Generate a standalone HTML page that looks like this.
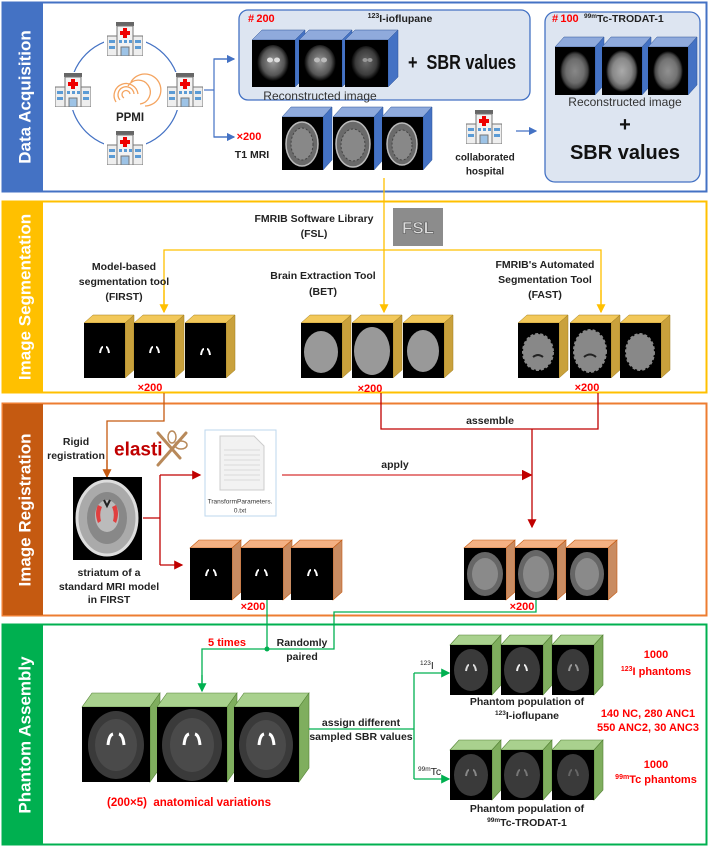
<!DOCTYPE html>
<html><head><meta charset="utf-8"><style>
html,body{margin:0;padding:0;background:#fff;}
svg{display:block;}
text{font-family:"Liberation Sans",sans-serif;dominant-baseline:central;}
.l{font-size:10.5px;font-weight:bold;fill:#222;text-anchor:middle;}
.r{font-size:11px;font-weight:bold;fill:#f00;text-anchor:middle;}
.t{font-size:17px;font-weight:bold;fill:#fff;text-anchor:middle;}
</style></head><body>
<svg width="709" height="848" viewBox="0 0 709 848" xmlns="http://www.w3.org/2000/svg">
<defs>
<radialGradient id="gs" cx="50%" cy="45%" r="50%"><stop offset="0" stop-color="#9a9a9a"/><stop offset="0.7" stop-color="#555"/><stop offset="1" stop-color="#000"/></radialGradient>
<radialGradient id="gt" cx="50%" cy="50%" r="50%"><stop offset="0" stop-color="#aaa"/><stop offset="0.6" stop-color="#888"/><stop offset="0.85" stop-color="#555"/><stop offset="1" stop-color="#000"/></radialGradient>
<marker id="ab" markerWidth="7" markerHeight="7" refX="6" refY="3.5" orient="auto"><path d="M0,0 L7,3.5 L0,7z" fill="#4472c4"/></marker>
<marker id="ay" markerWidth="7" markerHeight="7" refX="6" refY="3.5" orient="auto"><path d="M0,0 L7,3.5 L0,7z" fill="#ffc000"/></marker>
<marker id="ao" markerWidth="7" markerHeight="7" refX="6" refY="3.5" orient="auto"><path d="M0,0 L7,3.5 L0,7z" fill="#c55a11"/></marker>
<marker id="ar" markerWidth="7" markerHeight="7" refX="6" refY="3.5" orient="auto"><path d="M0,0 L7,3.5 L0,7z" fill="#c00000"/></marker>
<marker id="ag" markerWidth="7" markerHeight="7" refX="6" refY="3.5" orient="auto"><path d="M0,0 L7,3.5 L0,7z" fill="#00b050"/></marker>
<symbol id="hosp" viewBox="0 0 36 34" width="36" height="34">
<rect x="9" y="0" width="18" height="4" fill="#666"/>
<rect x="10" y="4" width="16" height="30" fill="#f2f2f2" stroke="#777"/>
<rect x="0" y="14" width="10" height="20" fill="#eee" stroke="#777"/>
<rect x="26" y="14" width="10" height="20" fill="#eee" stroke="#777"/>
<rect x="16" y="6" width="4" height="10" fill="#e00"/><rect x="13" y="9" width="10" height="4" fill="#e00"/>
<rect x="2" y="18" width="6" height="3" fill="#5b9bd5"/><rect x="2" y="24" width="6" height="3" fill="#5b9bd5"/>
<rect x="28" y="18" width="6" height="3" fill="#5b9bd5"/><rect x="28" y="24" width="6" height="3" fill="#5b9bd5"/>
<rect x="12" y="18" width="3" height="3" fill="#5b9bd5"/><rect x="17" y="18" width="3" height="3" fill="#5b9bd5"/><rect x="22" y="18" width="3" height="3" fill="#5b9bd5"/>
<rect x="14" y="25" width="8" height="9" fill="#9dc3e6" stroke="#777"/>
</symbol>
</defs>

<rect x="2.5" y="2.5" width="704" height="189" fill="none" stroke="#4472c4" stroke-width="2"/>
<rect x="3" y="3" width="40" height="188" fill="#4472c4"/>
<text class="t" transform="translate(25,97) rotate(-90)">Data Acquisition</text>

<rect x="2.5" y="201.5" width="704" height="191" fill="none" stroke="#ffc000" stroke-width="2"/>
<rect x="3" y="202" width="40" height="190" fill="#ffc000"/>
<text class="t" transform="translate(25,297) rotate(-90)">Image Segmentation</text>

<rect x="2.5" y="403.5" width="704" height="212" fill="none" stroke="#ed7d31" stroke-width="2"/>
<rect x="3" y="404" width="40" height="211" fill="#c55a11"/>
<text class="t" transform="translate(25,510) rotate(-90)">Image Registration</text>

<rect x="2.5" y="624.5" width="704" height="220" fill="none" stroke="#00b050" stroke-width="2"/>
<rect x="3" y="625" width="40" height="219" fill="#00b050"/>
<text class="t" transform="translate(25,735) rotate(-90)">Phantom Assembly</text>

<circle cx="125" cy="93" r="55" fill="none" stroke="#4472c4" stroke-width="1.2"/>
<rect x="104" y="20" width="42" height="36" fill="#fff"/><rect x="50" y="72" width="42" height="38" fill="#fff"/>
<rect x="162" y="72" width="42" height="38" fill="#fff"/><rect x="104" y="130" width="42" height="36" fill="#fff"/>
<use href="#hosp" x="107" y="22"/><use href="#hosp" x="55" y="73"/><use href="#hosp" x="167" y="73"/><use href="#hosp" x="107" y="131"/>
<g fill="none" stroke="#f4a460" stroke-width="1.3">
<path d="M120,100 a8,8 0 1,1 14,-6"/><path d="M116,102 a12,12 0 1,1 22,-8"/><path d="M124,98 a4,4 0 1,1 6,-4"/>
<path d="M128,86 a12,12 0 1,1 12,18"/><path d="M131,82 a16,16 0 1,1 14,24"/>
</g>
<text class="l" x="130" y="118" style="font-size:11.5px">PPMI</text>
<polyline points="204,90 214,90" fill="none" stroke="#4472c4" stroke-width="1.2"/>
<polyline points="234,59 214,59 214,137 234,137" fill="none" stroke="#4472c4" stroke-width="1.2"/>
<line x1="214" y1="59" x2="234" y2="59" stroke="#4472c4" stroke-width="1.2" marker-end="url(#ab)"/>
<line x1="214" y1="137" x2="234" y2="137" stroke="#4472c4" stroke-width="1.2" marker-end="url(#ab)"/>

<rect x="239" y="10" width="291" height="90" rx="9" fill="#dde5f1" stroke="#4472c4" stroke-width="1.3"/>
<text x="248" y="19" style="font-size:11px;font-weight:bold;fill:#f00">#&#8201;200</text>
<text class="l" x="400" y="19"><tspan style="font-size:7px" dy="-3">123</tspan><tspan dy="3">I-ioflupane</tspan></text>
<g>
<g transform="translate(252,40)"><polygon points="0,0 10,-10 53,-10 43,0" fill="#8faadc" stroke="#2f5597" stroke-width=".5"/><polygon points="43,0 53,-10 53,37 43,47" fill="#4472c4" stroke="#2f5597" stroke-width=".5"/><rect width="43" height="47" fill="#000"/><ellipse cx="21" cy="24" rx="16" ry="19" fill="url(#gs)"/><ellipse cx="18" cy="20" rx="3" ry="2.5" fill="#ddd"/><ellipse cx="25" cy="20" rx="3" ry="2.5" fill="#ddd"/></g>
<g transform="translate(299,40)"><polygon points="0,0 10,-10 53,-10 43,0" fill="#8faadc" stroke="#2f5597" stroke-width=".5"/><polygon points="43,0 53,-10 53,37 43,47" fill="#4472c4" stroke="#2f5597" stroke-width=".5"/><rect width="43" height="47" fill="#000"/><ellipse cx="21" cy="24" rx="16" ry="19" fill="url(#gs)"/><ellipse cx="18" cy="20" rx="3" ry="2.5" fill="#bbb"/><ellipse cx="25" cy="20" rx="3" ry="2.5" fill="#bbb"/></g>
<g transform="translate(345,40)"><polygon points="0,0 10,-10 53,-10 43,0" fill="#8faadc" stroke="#2f5597" stroke-width=".5"/><polygon points="43,0 53,-10 53,37 43,47" fill="#4472c4" stroke="#2f5597" stroke-width=".5"/><rect width="43" height="47" fill="#000"/><ellipse cx="21" cy="24" rx="15" ry="18" fill="url(#gs)" opacity=".7"/><ellipse cx="20" cy="20" rx="2.5" ry="2" fill="#999"/><ellipse cx="25" cy="20" rx="2.5" ry="2" fill="#999"/></g>
</g>
<text x="408" y="63" textLength="108" lengthAdjust="spacingAndGlyphs" style="font-size:20px;font-weight:bold;fill:#111;dominant-baseline:central">+&#160; SBR values</text>
<text x="320" y="96" style="font-size:12px;fill:#333;text-anchor:middle">Reconstructed image</text>

<g>
<g transform="translate(282,117)"><polygon points="0,0 9,-10 50,-10 41,0" fill="#8faadc" stroke="#2f5597" stroke-width=".5"/><polygon points="41,0 50,-10 50,43 41,53" fill="#4472c4" stroke="#2f5597" stroke-width=".5"/><rect width="41" height="53" fill="#000"/><ellipse cx="20" cy="27" rx="16" ry="22" fill="#6a6a6a" stroke="#bbb" stroke-width="1.5"/><ellipse cx="20" cy="27" rx="11" ry="16" fill="#888" stroke="#444" stroke-dasharray="2 2"/></g>
<g transform="translate(333,117)"><polygon points="0,0 9,-10 50,-10 41,0" fill="#8faadc" stroke="#2f5597" stroke-width=".5"/><polygon points="41,0 50,-10 50,43 41,53" fill="#4472c4" stroke="#2f5597" stroke-width=".5"/><rect width="41" height="53" fill="#000"/><ellipse cx="20" cy="27" rx="17" ry="23" fill="#6a6a6a" stroke="#bbb" stroke-width="1.5"/><ellipse cx="20" cy="28" rx="12" ry="16" fill="#888" stroke="#444" stroke-dasharray="2 2"/></g>
<g transform="translate(382,117)"><polygon points="0,0 9,-10 50,-10 41,0" fill="#8faadc" stroke="#2f5597" stroke-width=".5"/><polygon points="41,0 50,-10 50,43 41,53" fill="#4472c4" stroke="#2f5597" stroke-width=".5"/><rect width="41" height="53" fill="#000"/><ellipse cx="20" cy="27" rx="15" ry="21" fill="#6a6a6a" stroke="#bbb" stroke-width="1.5"/><ellipse cx="20" cy="28" rx="10" ry="15" fill="#888" stroke="#444" stroke-dasharray="2 2"/></g>
</g>
<text class="r" x="249" y="137">×200</text>
<text class="l" x="252" y="155">T1 MRI</text>

<use href="#hosp" x="466" y="110"/>
<text class="l" x="485" y="158" style="font-size:10px">collaborated</text>
<text class="l" x="485" y="172" style="font-size:10px">hospital</text>
<line x1="516" y1="131" x2="536" y2="131" stroke="#4472c4" stroke-width="1.2" marker-end="url(#ab)"/>

<rect x="545" y="12" width="155" height="170" rx="10" fill="#dde5f1" stroke="#4472c4" stroke-width="1.3"/>
<text x="552" y="19" style="font-size:11px;font-weight:bold;fill:#f00">#&#8201;100</text>
<text x="584" y="19" style="font-size:10.5px;font-weight:bold;fill:#222"><tspan style="font-size:6.5px" dy="-3">99m</tspan><tspan dy="3">Tc-TRODAT-1</tspan></text>
<g transform="translate(555,47)"><polygon points="0,0 9,-10 49,-10 40,0" fill="#8faadc" stroke="#2f5597" stroke-width=".5"/><polygon points="40,0 49,-10 49,38 40,48" fill="#4472c4" stroke="#2f5597" stroke-width=".5"/><rect width="40" height="48" fill="#000"/><ellipse cx="20" cy="24" rx="15" ry="20" fill="url(#gt)" opacity=".8"/></g>
<g transform="translate(602,47)"><polygon points="0,0 9,-10 49,-10 40,0" fill="#8faadc" stroke="#2f5597" stroke-width=".5"/><polygon points="40,0 49,-10 49,38 40,48" fill="#4472c4" stroke="#2f5597" stroke-width=".5"/><rect width="40" height="48" fill="#000"/><ellipse cx="20" cy="24" rx="16" ry="21" fill="url(#gt)"/></g>
<g transform="translate(648,47)"><polygon points="0,0 9,-10 49,-10 40,0" fill="#8faadc" stroke="#2f5597" stroke-width=".5"/><polygon points="40,0 49,-10 49,38 40,48" fill="#4472c4" stroke="#2f5597" stroke-width=".5"/><rect width="40" height="48" fill="#000"/><ellipse cx="20" cy="24" rx="15" ry="20" fill="url(#gt)" opacity=".85"/></g>
<text x="625" y="102" style="font-size:12px;fill:#333;text-anchor:middle">Reconstructed image</text>
<text x="625" y="125" style="font-size:20px;font-weight:bold;fill:#111;text-anchor:middle">+</text>
<text x="625" y="153" style="font-size:20px;font-weight:bold;fill:#111;text-anchor:middle">SBR values</text>

<line x1="384" y1="178" x2="384" y2="312" stroke="#ffc000" stroke-width="1.3" marker-end="url(#ay)"/>
<polyline points="164,312 164,250 601,250 601,312" fill="none" stroke="#ffc000" stroke-width="1.3"/>
<line x1="164" y1="290" x2="164" y2="312" stroke="#ffc000" stroke-width="1.3" marker-end="url(#ay)"/>
<line x1="601" y1="290" x2="601" y2="312" stroke="#ffc000" stroke-width="1.3" marker-end="url(#ay)"/>
<text class="l" x="314" y="219">FMRIB Software Library</text>
<text class="l" x="314" y="234">(FSL)</text>
<rect x="393" y="208" width="50" height="38" fill="#8c8c8c"/>
<text x="418" y="228" style="font-size:17px;font-weight:bold;fill:#ddd;text-anchor:middle;stroke:#555;stroke-width:.6">FSL</text>
<text class="l" x="124" y="267">Model-based</text>
<text class="l" x="124" y="282">segmentation tool</text>
<text class="l" x="124" y="297">(FIRST)</text>
<text class="l" x="323" y="276">Brain Extraction Tool</text>
<text class="l" x="323" y="292">(BET)</text>
<text class="l" x="545" y="265">FMRIB's Automated</text>
<text class="l" x="545" y="280">Segmentation Tool</text>
<text class="l" x="545" y="295">(FAST)</text>

<g>
<g transform="translate(84,323)"><polygon points="0,0 9,-8 50,-8 41,0" fill="#f2c85a" stroke="#a07d1c" stroke-width=".5"/><polygon points="41,0 50,-8 50,47 41,55" fill="#c9a13c" stroke="#a07d1c" stroke-width=".5"/><rect width="41" height="55" fill="#000"/><path d="M16,30 q1,-6 3,-6 M25,30 q-1,-6 -3,-6" stroke="#fff" stroke-width="2" fill="none"/></g>
<g transform="translate(134,323)"><polygon points="0,0 9,-8 50,-8 41,0" fill="#f2c85a" stroke="#a07d1c" stroke-width=".5"/><polygon points="41,0 50,-8 50,47 41,55" fill="#c9a13c" stroke="#a07d1c" stroke-width=".5"/><rect width="41" height="55" fill="#000"/><path d="M16,30 q1,-6 3,-6 M25,30 q-1,-6 -3,-6" stroke="#fff" stroke-width="2" fill="none"/></g>
<g transform="translate(185,323)"><polygon points="0,0 9,-8 50,-8 41,0" fill="#f2c85a" stroke="#a07d1c" stroke-width=".5"/><polygon points="41,0 50,-8 50,47 41,55" fill="#c9a13c" stroke="#a07d1c" stroke-width=".5"/><rect width="41" height="55" fill="#000"/><path d="M16,32 q1,-6 3,-6 M25,32 q-1,-6 -3,-6" stroke="#fff" stroke-width="2" fill="none"/></g>
<g transform="translate(301,323)"><polygon points="0,0 9,-8 50,-8 41,0" fill="#f2c85a" stroke="#a07d1c" stroke-width=".5"/><polygon points="41,0 50,-8 50,47 41,55" fill="#c9a13c" stroke="#a07d1c" stroke-width=".5"/><rect width="41" height="55" fill="#000"/><ellipse cx="20" cy="29" rx="17" ry="21" fill="#999"/></g>
<g transform="translate(352,323)"><polygon points="0,0 9,-8 50,-8 41,0" fill="#f2c85a" stroke="#a07d1c" stroke-width=".5"/><polygon points="41,0 50,-8 50,47 41,55" fill="#c9a13c" stroke="#a07d1c" stroke-width=".5"/><rect width="41" height="55" fill="#000"/><ellipse cx="20" cy="28" rx="18" ry="24" fill="#999"/></g>
<g transform="translate(403,323)"><polygon points="0,0 9,-8 50,-8 41,0" fill="#f2c85a" stroke="#a07d1c" stroke-width=".5"/><polygon points="41,0 50,-8 50,47 41,55" fill="#c9a13c" stroke="#a07d1c" stroke-width=".5"/><rect width="41" height="55" fill="#000"/><ellipse cx="20" cy="28" rx="16" ry="21" fill="#999"/></g>
<g transform="translate(518,323)"><polygon points="0,0 9,-8 50,-8 41,0" fill="#f2c85a" stroke="#a07d1c" stroke-width=".5"/><polygon points="41,0 50,-8 50,47 41,55" fill="#c9a13c" stroke="#a07d1c" stroke-width=".5"/><rect width="41" height="55" fill="#000"/><ellipse cx="20" cy="29" rx="15" ry="18" fill="#888" stroke="#888" stroke-width="2" stroke-dasharray="3 2"/><path d="M15,34 q5,-4 10,0" stroke="#222" stroke-width="2" fill="none"/></g>
<g transform="translate(570,323)"><polygon points="0,0 9,-8 50,-8 41,0" fill="#f2c85a" stroke="#a07d1c" stroke-width=".5"/><polygon points="41,0 50,-8 50,47 41,55" fill="#c9a13c" stroke="#a07d1c" stroke-width=".5"/><rect width="41" height="55" fill="#000"/><ellipse cx="20" cy="28" rx="16" ry="21" fill="#888" stroke="#888" stroke-width="2" stroke-dasharray="3 2"/><path d="M14,34 q6,-5 12,0" stroke="#222" stroke-width="2" fill="none"/></g>
<g transform="translate(620,323)"><polygon points="0,0 9,-8 50,-8 41,0" fill="#f2c85a" stroke="#a07d1c" stroke-width=".5"/><polygon points="41,0 50,-8 50,47 41,55" fill="#c9a13c" stroke="#a07d1c" stroke-width=".5"/><rect width="41" height="55" fill="#000"/><ellipse cx="20" cy="29" rx="14" ry="18" fill="#888" stroke="#888" stroke-width="2" stroke-dasharray="3 2"/></g>
</g>
<text class="r" x="150" y="388">×200</text>
<text class="r" x="370" y="389">×200</text>
<text class="r" x="587" y="388">×200</text>

<polyline points="164,393 164,421 107,421 107,476" fill="none" stroke="#c55a11" stroke-width="1.3"/>
<line x1="107" y1="460" x2="107" y2="477" stroke="#c55a11" stroke-width="1.3" marker-end="url(#ao)"/>
<text class="l" x="76" y="442">Rigid</text>
<text class="l" x="76" y="456">registration</text>
<text x="114" y="450" style="font-size:19px;font-weight:bold;fill:#c00000;dominant-baseline:central">elasti</text>
<g stroke="#b8895a" stroke-width="3" fill="none" stroke-linecap="round">
<line x1="158" y1="465" x2="186" y2="433"/><line x1="158" y1="433" x2="180" y2="458"/>
<ellipse cx="181" cy="445" rx="6" ry="4" stroke-width="1.5"/><ellipse cx="172" cy="437" rx="4" ry="6" stroke-width="1.5"/>
</g>
<rect x="73" y="477" width="69" height="83" fill="#000"/>
<ellipse cx="107" cy="518" rx="30" ry="37" fill="#aaa" stroke="#ddd" stroke-width="3"/>
<ellipse cx="107" cy="518" rx="20" ry="26" fill="#888"/>
<ellipse cx="107" cy="516" rx="12" ry="16" fill="#bbb"/>
<path d="M98,505 q-4,8 0,18 l3,-2 q-2,-8 1,-14z M116,505 q4,8 0,18 l-3,-2 q2,-8 -1,-14z" fill="#e04040"/>
<path d="M104,500 l3,6 l3,-6" stroke="#222" stroke-width="2" fill="none"/>
<text class="l" x="109" y="573">striatum of a</text>
<text class="l" x="109" y="587">standard MRI model</text>
<text class="l" x="109" y="600">in FIRST</text>

<polyline points="143,518 160,518" fill="none" stroke="#c00000" stroke-width="1.3"/>
<polyline points="160,475 160,565" fill="none" stroke="#c00000" stroke-width="1.3"/>
<line x1="160" y1="475" x2="200" y2="475" stroke="#c00000" stroke-width="1.3" marker-end="url(#ar)"/>
<line x1="160" y1="565" x2="182" y2="565" stroke="#c00000" stroke-width="1.3" marker-end="url(#ar)"/>

<rect x="205" y="430" width="71" height="86" fill="#fff" stroke="#bdd7ee"/>
<path d="M220,436 h34 l10,10 v44 h-44z" fill="#f2f2f2" stroke="#ccc"/>
<g stroke="#d0d0d0" stroke-width=".8"><line x1="224" y1="450" x2="260" y2="450"/><line x1="224" y1="455" x2="260" y2="455"/><line x1="224" y1="460" x2="260" y2="460"/><line x1="224" y1="465" x2="260" y2="465"/><line x1="224" y1="470" x2="260" y2="470"/><line x1="224" y1="475" x2="260" y2="475"/><line x1="224" y1="480" x2="260" y2="480"/></g>
<text x="240" y="502" style="font-size:6.5px;fill:#333;text-anchor:middle">TransformParameters.</text>
<text x="240" y="511" style="font-size:6.5px;fill:#333;text-anchor:middle">0.txt</text>

<line x1="282" y1="475" x2="531" y2="475" stroke="#d55" stroke-width="1.5" marker-end="url(#ar)"/>
<text class="l" x="395" y="465">apply</text>
<polyline points="381,393 381,429 598,429 598,393" fill="none" stroke="#c00000" stroke-width="1.3"/>
<line x1="532" y1="429" x2="532" y2="527" stroke="#c00000" stroke-width="1.3" marker-end="url(#ar)"/>
<text class="l" x="490" y="421">assemble</text>

<g>
<g transform="translate(190,548)"><polygon points="0,0 9,-8 51,-8 42,0" fill="#f4b183" stroke="#c55a11" stroke-width=".6"/><polygon points="42,0 51,-8 51,44 42,52" fill="#c98c62" stroke="#c55a11" stroke-width=".6"/><rect width="42" height="52" fill="#000"/><path d="M16,28 q1,-6 3,-6 M26,28 q-1,-6 -3,-6" stroke="#fff" stroke-width="2" fill="none"/></g>
<g transform="translate(241,548)"><polygon points="0,0 9,-8 51,-8 42,0" fill="#f4b183" stroke="#c55a11" stroke-width=".6"/><polygon points="42,0 51,-8 51,44 42,52" fill="#c98c62" stroke="#c55a11" stroke-width=".6"/><rect width="42" height="52" fill="#000"/><path d="M15,28 q1,-6 3,-6 M26,28 q-1,-6 -3,-6" stroke="#fff" stroke-width="2" fill="none"/></g>
<g transform="translate(291,548)"><polygon points="0,0 9,-8 51,-8 42,0" fill="#f4b183" stroke="#c55a11" stroke-width=".6"/><polygon points="42,0 51,-8 51,44 42,52" fill="#c98c62" stroke="#c55a11" stroke-width=".6"/><rect width="42" height="52" fill="#000"/><path d="M17,28 q1,-6 3,-6 M26,28 q-1,-6 -3,-6" stroke="#fff" stroke-width="2" fill="none"/></g>
<g transform="translate(464,548)"><polygon points="0,0 9,-8 51,-8 42,0" fill="#f4b183" stroke="#c55a11" stroke-width=".6"/><polygon points="42,0 51,-8 51,44 42,52" fill="#c98c62" stroke="#c55a11" stroke-width=".6"/><rect width="42" height="52" fill="#000"/><ellipse cx="21" cy="26" rx="18" ry="22" fill="#666"/><ellipse cx="21" cy="26" rx="13" ry="16" fill="#8a8a8a"/></g>
<g transform="translate(515,548)"><polygon points="0,0 9,-8 51,-8 42,0" fill="#f4b183" stroke="#c55a11" stroke-width=".6"/><polygon points="42,0 51,-8 51,44 42,52" fill="#c98c62" stroke="#c55a11" stroke-width=".6"/><rect width="42" height="52" fill="#000"/><ellipse cx="21" cy="26" rx="18" ry="24" fill="#666"/><ellipse cx="21" cy="26" rx="13" ry="18" fill="#8a8a8a"/></g>
<g transform="translate(566,548)"><polygon points="0,0 9,-8 51,-8 42,0" fill="#f4b183" stroke="#c55a11" stroke-width=".6"/><polygon points="42,0 51,-8 51,44 42,52" fill="#c98c62" stroke="#c55a11" stroke-width=".6"/><rect width="42" height="52" fill="#000"/><ellipse cx="21" cy="26" rx="17" ry="22" fill="#666"/><ellipse cx="21" cy="26" rx="12" ry="16" fill="#8a8a8a"/></g>
</g>
<text class="r" x="253" y="607">×200</text>
<text class="r" x="522" y="607">×200</text>

<polyline points="267,600 267,649" fill="none" stroke="#00b050" stroke-width="1.3"/>
<polyline points="536,600 536,612 334,612 334,649 202,649 202,690" fill="none" stroke="#00b050" stroke-width="1.3"/>
<line x1="202" y1="675" x2="202" y2="691" stroke="#00b050" stroke-width="1.3" marker-end="url(#ag)"/>
<circle cx="267" cy="649" r="2.5" fill="#00b050"/>
<text class="r" x="227" y="643">5 times</text>
<text class="l" x="302" y="643">Randomly</text>
<text class="l" x="302" y="657">paired</text>

<g>
<g transform="translate(82,707)"><polygon points="0,0 10,-14 78,-14 68,0" fill="#a9d18e" stroke="#548235" stroke-width=".6"/><polygon points="68,0 78,-14 78,61 68,75" fill="#7fae5e" stroke="#548235" stroke-width=".6"/><rect width="68" height="75" fill="#000"/><ellipse cx="34" cy="38" rx="28" ry="34" fill="#3a3a3a"/><ellipse cx="34" cy="38" rx="21" ry="26" fill="#4a4a4a"/><path d="M26,38 q1,-10 5,-11 M42,38 q-1,-10 -5,-11" stroke="#fff" stroke-width="3" fill="none"/></g>
<g transform="translate(157,707)"><polygon points="0,0 10,-14 80,-14 70,0" fill="#a9d18e" stroke="#548235" stroke-width=".6"/><polygon points="70,0 80,-14 80,61 70,75" fill="#7fae5e" stroke="#548235" stroke-width=".6"/><rect width="70" height="75" fill="#000"/><ellipse cx="35" cy="38" rx="30" ry="36" fill="#3a3a3a"/><ellipse cx="35" cy="38" rx="22" ry="27" fill="#4a4a4a"/><path d="M27,38 q1,-10 5,-11 M43,38 q-1,-10 -5,-11" stroke="#fff" stroke-width="3" fill="none"/></g>
<g transform="translate(234,707)"><polygon points="0,0 10,-14 75,-14 65,0" fill="#a9d18e" stroke="#548235" stroke-width=".6"/><polygon points="65,0 75,-14 75,61 65,75" fill="#7fae5e" stroke="#548235" stroke-width=".6"/><rect width="65" height="75" fill="#000"/><ellipse cx="32" cy="38" rx="27" ry="33" fill="#3a3a3a"/><ellipse cx="32" cy="38" rx="20" ry="25" fill="#4a4a4a"/><path d="M25,38 q1,-10 5,-11 M40,38 q-1,-10 -5,-11" stroke="#fff" stroke-width="3" fill="none"/></g>
</g>
<text class="r" x="189" y="803" style="font-size:11.5px">(200×5)&#160; anatomical variations</text>
<text class="l" x="361" y="723">assign different</text>
<text class="l" x="361" y="737">sampled SBR values</text>
<polyline points="309,729 414,729" fill="none" stroke="#00b050" stroke-width="1.3"/>
<polyline points="414,673 414,779" fill="none" stroke="#00b050" stroke-width="1.3"/>
<line x1="414" y1="673" x2="449" y2="673" stroke="#00b050" stroke-width="1.3" marker-end="url(#ag)"/>
<line x1="414" y1="779" x2="449" y2="779" stroke="#00b050" stroke-width="1.3" marker-end="url(#ag)"/>
<text x="420" y="666" style="font-size:10.5px;fill:#222"><tspan style="font-size:6.5px" dy="-3">123</tspan><tspan dy="3">I</tspan></text>
<text x="418" y="772" style="font-size:10.5px;fill:#222"><tspan style="font-size:6.5px" dy="-3">99m</tspan><tspan dy="3">Tc</tspan></text>

<g>
<g transform="translate(450,645)"><polygon points="0,0 9,-10 51,-10 42,0" fill="#a9d18e" stroke="#548235" stroke-width=".6"/><polygon points="42,0 51,-10 51,40 42,50" fill="#7fae5e" stroke="#548235" stroke-width=".6"/><rect width="42" height="50" fill="#000"/><ellipse cx="21" cy="25" rx="17" ry="21" fill="#3a3a3a"/><path d="M16,26 q1,-6 3,-6 M26,26 q-1,-6 -3,-6" stroke="#ddd" stroke-width="2" fill="none"/></g>
<g transform="translate(501,645)"><polygon points="0,0 9,-10 51,-10 42,0" fill="#a9d18e" stroke="#548235" stroke-width=".6"/><polygon points="42,0 51,-10 51,40 42,50" fill="#7fae5e" stroke="#548235" stroke-width=".6"/><rect width="42" height="50" fill="#000"/><ellipse cx="21" cy="25" rx="18" ry="23" fill="#3a3a3a"/><path d="M16,26 q1,-6 3,-6 M26,26 q-1,-6 -3,-6" stroke="#eee" stroke-width="2" fill="none"/></g>
<g transform="translate(552,645)"><polygon points="0,0 9,-10 51,-10 42,0" fill="#a9d18e" stroke="#548235" stroke-width=".6"/><polygon points="42,0 51,-10 51,40 42,50" fill="#7fae5e" stroke="#548235" stroke-width=".6"/><rect width="42" height="50" fill="#000"/><ellipse cx="21" cy="25" rx="16" ry="21" fill="#3a3a3a"/><path d="M17,26 q1,-6 3,-6 M26,26 q-1,-6 -3,-6" stroke="#999" stroke-width="2" fill="none"/></g>
<g transform="translate(450,750)"><polygon points="0,0 9,-10 51,-10 42,0" fill="#a9d18e" stroke="#548235" stroke-width=".6"/><polygon points="42,0 51,-10 51,40 42,50" fill="#7fae5e" stroke="#548235" stroke-width=".6"/><rect width="42" height="50" fill="#000"/><ellipse cx="21" cy="25" rx="17" ry="21" fill="#3a3a3a"/><path d="M16,26 q1,-6 3,-6 M26,26 q-1,-6 -3,-6" stroke="#888" stroke-width="2" fill="none"/></g>
<g transform="translate(501,750)"><polygon points="0,0 9,-10 51,-10 42,0" fill="#a9d18e" stroke="#548235" stroke-width=".6"/><polygon points="42,0 51,-10 51,40 42,50" fill="#7fae5e" stroke="#548235" stroke-width=".6"/><rect width="42" height="50" fill="#000"/><ellipse cx="21" cy="25" rx="18" ry="23" fill="#3a3a3a"/><path d="M16,26 q1,-6 3,-6 M26,26 q-1,-6 -3,-6" stroke="#777" stroke-width="2" fill="none"/></g>
<g transform="translate(552,750)"><polygon points="0,0 9,-10 51,-10 42,0" fill="#a9d18e" stroke="#548235" stroke-width=".6"/><polygon points="42,0 51,-10 51,40 42,50" fill="#7fae5e" stroke="#548235" stroke-width=".6"/><rect width="42" height="50" fill="#000"/><ellipse cx="21" cy="25" rx="16" ry="21" fill="#3a3a3a"/><path d="M17,26 q1,-6 3,-6 M26,26 q-1,-6 -3,-6" stroke="#666" stroke-width="2" fill="none"/></g>
</g>
<text class="l" x="527" y="702">Phantom population of</text>
<text class="l" x="527" y="716"><tspan style="font-size:6.5px" dy="-3">123</tspan><tspan dy="3">I-ioflupane</tspan></text>
<text class="l" x="527" y="809">Phantom population of</text>
<text class="l" x="527" y="823"><tspan style="font-size:6.5px" dy="-3">99m</tspan><tspan dy="3">Tc-TRODAT-1</tspan></text>

<text class="r" x="656" y="655">1000</text>
<text class="r" x="656" y="672"><tspan style="font-size:7px" dy="-3">123</tspan><tspan dy="3">I phantoms</tspan></text>
<text class="r" x="648" y="714">140 NC, 280 ANC1</text>
<text class="r" x="648" y="728">550 ANC2, 30 ANC3</text>
<text class="r" x="656" y="765">1000</text>
<text class="r" x="656" y="780"><tspan style="font-size:7px" dy="-3">99m</tspan><tspan dy="3">Tc phantoms</tspan></text>
</svg>
</body></html>
